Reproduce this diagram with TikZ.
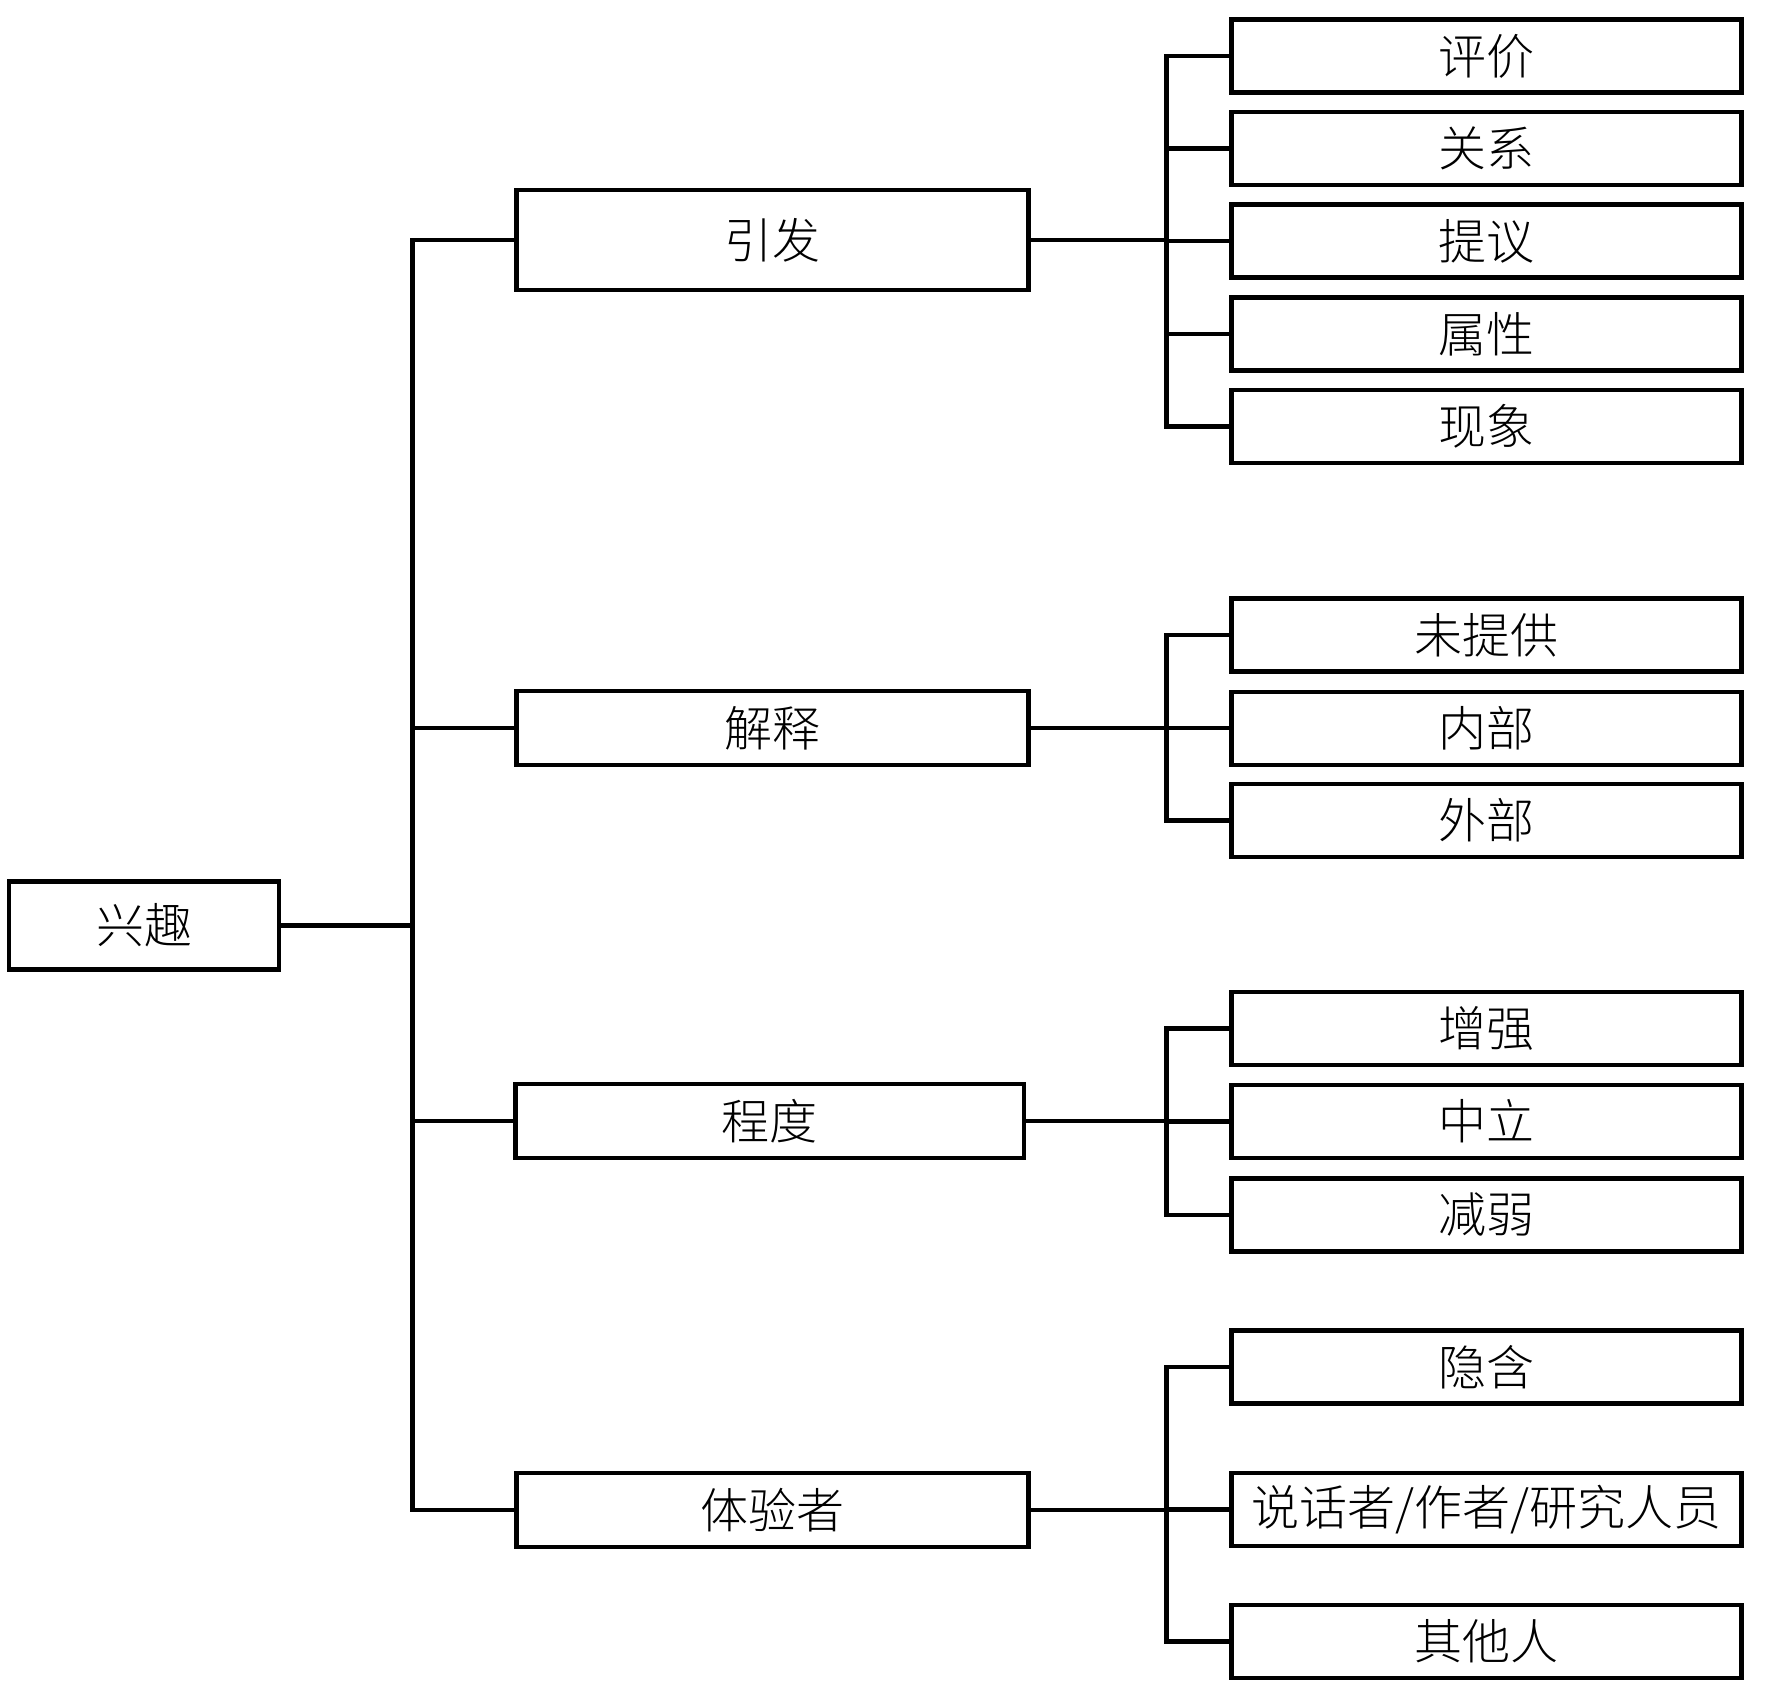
\documentclass[tikz,border=0pt]{standalone}
\usepackage{fontspec}
\newfontfamily\cjk{Noto Sans CJK SC Light}
\begin{document}
\begin{tikzpicture}[x=0.5pt,y=-0.5pt,
  box/.style={draw, line width=2.2pt, inner sep=0pt, font=\cjk\fontsize{24}{28}\selectfont},
  leafbox/.style={box, minimum width=255pt, minimum height=36.5pt},
  midbox/.style={box, minimum width=256pt, minimum height=37pt},
  link/.style={line width=2.2pt, line join=miter}]
\useasboundingbox (0,0) rectangle (1772,1689);
\node[box, minimum width=135pt, minimum height=44pt] (root) at (144,925.5) {兴趣};
\node[midbox, minimum height=50.25pt] (b1) at (772.5,240) {引发};
\node[midbox] (b2) at (772.5,727.8) {解释};
\node[midbox, minimum width=254.3pt] (b3) at (769.6,1121) {程度};
\node[midbox] (b4) at (772.5,1509.8) {体验者};
\node[leafbox] (l1) at (1486.6,56) {评价};
\node[leafbox] (l2) at (1486.6,148.6) {关系};
\node[leafbox] (l3) at (1486.6,241.2) {提议};
\node[leafbox] (l4) at (1486.6,334) {属性};
\node[leafbox] (l5) at (1486.6,426.6) {现象};
\node[leafbox] (l6) at (1486.6,635.2) {未提供};
\node[leafbox] (l7) at (1486.6,728.3) {内部};
\node[leafbox] (l8) at (1486.6,820.5) {外部};
\node[leafbox] (l9) at (1486.6,1028.3) {增强};
\node[leafbox] (l10) at (1486.6,1121.6) {中立};
\node[leafbox] (l11) at (1486.6,1214.9) {减弱};
\node[leafbox] (l12) at (1486.6,1366.8) {隐含};
\node[leafbox] (l13) at (1486.6,1509.3) {说话者/作者/研究人员};
\node[leafbox] (l14) at (1486.6,1641.5) {其他人};
\coordinate (T) at (412.5,0);
\coordinate (R) at (1166.3,0);
% left tree
\draw[link] (root.east) -- (root.east -| T);
\draw[link] (b1.west) -- (b1.west -| T) -- (b4.west -| T) -- (b4.west);
\draw[link] (b2.west) -- (b2.west -| T);
\draw[link] (b3.west) -- (b3.west -| T);
% group 1
\draw[link] (b1.east) -- (b1.east -| R);
\draw[link] (l1.west) -- (l1.west -| R) -- (l5.west -| R) -- (l5.west);
\draw[link] (l2.west) -- (l2.west -| R);
\draw[link] (l3.west) -- (l3.west -| R);
\draw[link] (l4.west) -- (l4.west -| R);
% group 2
\draw[link] (b2.east) -- (b2.east -| R);
\draw[link] (l6.west) -- (l6.west -| R) -- (l8.west -| R) -- (l8.west);
\draw[link] (l7.west) -- (l7.west -| R);
% group 3
\draw[link] (b3.east) -- (b3.east -| R);
\draw[link] (l9.west) -- (l9.west -| R) -- (l11.west -| R) -- (l11.west);
\draw[link] (l10.west) -- (l10.west -| R);
% group 4
\draw[link] (b4.east) -- (b4.east -| R);
\draw[link] (l12.west) -- (l12.west -| R) -- (l14.west -| R) -- (l14.west);
\draw[link] (l13.west) -- (l13.west -| R);
\end{tikzpicture}
\end{document}
